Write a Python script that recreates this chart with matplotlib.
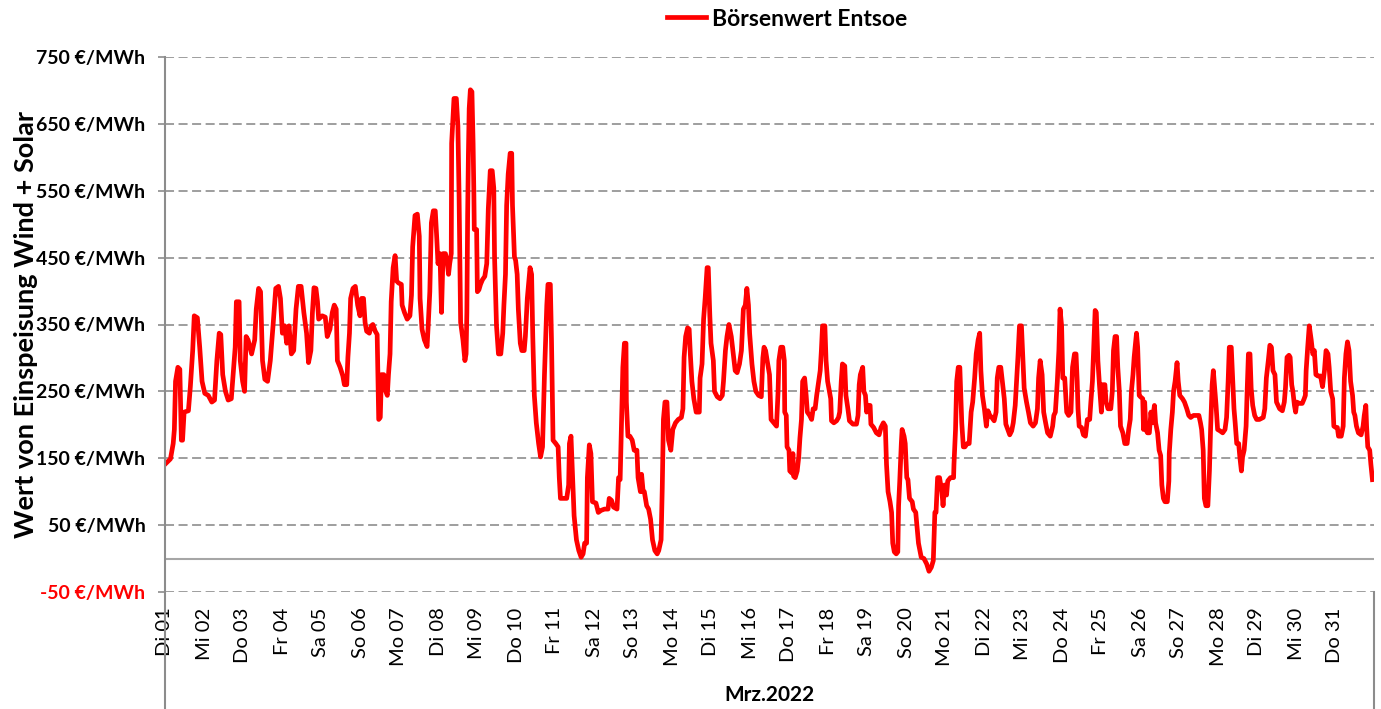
import numpy as np
import matplotlib
matplotlib.use("Agg")
import matplotlib.pyplot as plt

# (Tag seit 01.03. 00:00, Wert in EUR/MWh)
woche_1 = [(0.00, 141), (0.14, 149), (0.21, 172), (0.24, 193), (0.27, 265), (0.33, 286), (0.38, 283),
           (0.42, 177), (0.45, 177), (0.49, 219), (0.60, 221), (0.65, 257), (0.71, 311), (0.75, 363),
           (0.83, 360), (0.89, 316), (0.95, 265), (1.02, 247), (1.11, 244), (1.20, 234), (1.27, 237),
           (1.33, 296), (1.39, 337), (1.43, 335), (1.48, 275), (1.55, 250), (1.62, 237), (1.70, 239),
           (1.74, 270), (1.80, 316), (1.83, 384), (1.90, 384), (1.93, 296), (1.99, 265), (2.04, 250),
           (2.08, 332), (2.13, 327), (2.22, 306), (2.30, 327), (2.34, 373), (2.40, 404), (2.45, 399),
           (2.50, 296), (2.56, 268), (2.63, 265), (2.70, 296), (2.77, 348), (2.84, 404), (2.91, 407),
           (2.96, 389), (3.01, 337), (3.07, 348), (3.12, 322), (3.18, 348), (3.24, 306), (3.30, 311),
           (3.36, 373), (3.42, 407), (3.49, 407), (3.56, 368), (3.63, 337), (3.68, 293), (3.74, 311)]
woche_2 = [(3.78, 368), (3.82, 405), (3.87, 404), (3.91, 384), (3.94, 358), (4.03, 363), (4.11, 361),
           (4.16, 332), (4.23, 343), (4.29, 368), (4.34, 379), (4.39, 373), (4.42, 296), (4.49, 286),
           (4.56, 273), (4.60, 260), (4.66, 260), (4.69, 301), (4.73, 337), (4.76, 389), (4.82, 404),
           (4.88, 407), (4.94, 379), (5.00, 363), (5.04, 389), (5.09, 389), (5.13, 353), (5.17, 340),
           (5.24, 337), (5.29, 348), (5.33, 350), (5.39, 340), (5.44, 335), (5.47, 244), (5.48, 208),
           (5.52, 211), (5.55, 275), (5.61, 275), (5.66, 250), (5.70, 244), (5.73, 275), (5.77, 306),
           (5.80, 384), (5.85, 435), (5.90, 453), (5.94, 415), (5.99, 412), (6.06, 410), (6.08, 379),
           (6.14, 368), (6.21, 358), (6.28, 363), (6.32, 394), (6.35, 466), (6.41, 513), (6.47, 515),
           (6.52, 482), (6.54, 389), (6.59, 343), (6.65, 327), (6.72, 317), (6.75, 350), (6.79, 399),
           (6.83, 502), (6.88, 520), (6.93, 520), (6.97, 477), (7.00, 441), (7.05, 456), (7.09, 368),
           (7.13, 456), (7.19, 456), (7.23, 446), (7.27, 425), (7.30, 441), (7.34, 456), (7.35, 621),
           (7.41, 688), (7.47, 688), (7.51, 647), (7.54, 544), (7.58, 353), (7.64, 327), (7.69, 296),
           (7.72, 306), (7.74, 368), (7.76, 513), (7.78, 606), (7.80, 673), (7.83, 701), (7.87, 698),
           (7.90, 621)]
woche_3 = [(7.92, 544), (7.93, 492), (7.99, 492), (8.01, 399), (8.05, 402), (8.09, 410), (8.14, 417),
           (8.20, 422), (8.25, 441), (8.29, 523), (8.34, 580), (8.39, 580), (8.43, 554), (8.45, 451),
           (8.48, 389), (8.50, 348), (8.55, 306), (8.61, 306), (8.66, 337), (8.69, 379), (8.73, 425),
           (8.76, 528), (8.80, 575), (8.85, 606), (8.89, 606), (8.91, 528), (8.96, 451), (8.99, 446),
           (9.03, 425), (9.06, 373), (9.11, 322), (9.15, 311), (9.21, 311), (9.24, 332), (9.29, 389),
           (9.33, 415), (9.36, 435), (9.40, 425), (9.43, 332), (9.47, 244), (9.52, 203), (9.58, 172),
           (9.63, 152), (9.68, 167), (9.73, 275), (9.79, 379), (9.82, 410), (9.88, 410), (9.91, 327),
           (9.95, 177), (10.02, 172), (10.08, 167), (10.11, 121), (10.14, 90), (10.21, 90), (10.30, 90),
           (10.35, 110), (10.37, 172), (10.41, 183), (10.46, 110), (10.49, 64), (10.55, 28), (10.61, 12),
           (10.67, 2), (10.72, 7), (10.76, 23), (10.81, 23), (10.83, 121), (10.88, 170), (10.92, 157),
           (10.96, 85), (11.05, 83), (11.11, 69), (11.18, 72), (11.27, 74), (11.36, 74), (11.39, 90),
           (11.45, 87), (11.50, 77), (11.59, 74)]
woche_4 = [(11.63, 121), (11.67, 118), (11.70, 193), (11.74, 286), (11.78, 322), (11.82, 322),
           (11.83, 234), (11.87, 183), (11.92, 183), (11.98, 177), (12.03, 162), (12.10, 162),
           (12.13, 121), (12.19, 100), (12.22, 126), (12.26, 100), (12.29, 100), (12.35, 79),
           (12.40, 74), (12.45, 59), (12.50, 28), (12.56, 12), (12.62, 7), (12.66, 12), (12.72, 28),
           (12.75, 105), (12.78, 208), (12.82, 234), (12.87, 234), (12.91, 177), (12.97, 162),
           (13.02, 193), (13.09, 203), (13.16, 208), (13.24, 211), (13.28, 224), (13.31, 301),
           (13.35, 332), (13.40, 345), (13.44, 343), (13.47, 306), (13.51, 265), (13.56, 239),
           (13.62, 219), (13.70, 219), (13.72, 270), (13.77, 291), (13.81, 358), (13.85, 389),
           (13.90, 435), (13.93, 435), (13.97, 363), (14.00, 322), (14.06, 296), (14.09, 250),
           (14.16, 242), (14.23, 239), (14.29, 244), (14.32, 265), (14.37, 311), (14.41, 332),
           (14.46, 350), (14.52, 332), (14.57, 306), (14.62, 281), (14.67, 278), (14.73, 291),
           (14.78, 311), (14.83, 373), (14.88, 379), (14.92, 404), (14.96, 379), (14.99, 337),
           (15.05, 291), (15.10, 265), (15.15, 250), (15.22, 244), (15.29, 242)]
woche_5 = [(15.33, 300), (15.36, 316), (15.40, 311), (15.44, 296), (15.50, 275), (15.54, 208),
           (15.61, 203), (15.68, 198), (15.72, 250), (15.74, 296), (15.79, 316), (15.84, 316),
           (15.88, 296), (15.89, 219), (15.93, 214), (15.95, 167), (16.00, 162), (16.02, 131),
           (16.07, 128), (16.10, 157), (16.12, 123), (16.16, 121), (16.21, 131), (16.25, 152),
           (16.28, 180), (16.32, 208), (16.35, 265), (16.40, 270), (16.44, 244), (16.47, 219),
           (16.53, 214), (16.58, 208), (16.62, 224), (16.67, 224), (16.71, 244), (16.76, 265),
           (16.80, 281), (16.83, 311), (16.86, 348), (16.92, 348), (16.95, 296), (16.99, 265),
           (17.02, 255), (17.07, 239), (17.09, 206), (17.15, 203), (17.22, 206), (17.27, 211),
           (17.30, 219), (17.34, 265), (17.37, 291), (17.43, 288), (17.46, 244), (17.51, 224),
           (17.55, 206), (17.64, 201), (17.73, 201), (17.77, 214), (17.80, 260), (17.83, 275),
           (17.89, 286), (17.92, 250), (17.96, 244), (17.99, 219), (18.04, 229), (18.08, 229),
           (18.10, 201), (18.17, 196), (18.24, 188), (18.31, 185), (18.36, 196), (18.42, 203),
           (18.47, 198), (18.50, 141), (18.54, 100), (18.59, 85), (18.63, 69), (18.66, 23),
           (18.70, 10), (18.75, 7), (18.79, 10), (18.81, 79), (18.84, 116), (18.88, 172),
           (18.90, 193), (18.95, 183), (18.98, 172), (19.02, 121), (19.05, 118), (19.09, 90),
           (19.16, 85), (19.19, 74), (19.25, 69)]
woche_6 = [(19.32, 23), (19.39, 2), (19.46, 0), (19.53, -8), (19.59, -19), (19.65, -13), (19.70, -3),
           (19.74, 69), (19.77, 69), (19.81, 121), (19.86, 121), (19.92, 100), (19.95, 79),
           (19.99, 110), (20.04, 95), (20.07, 116), (20.14, 121), (20.22, 121), (20.23, 141),
           (20.27, 193), (20.30, 265), (20.34, 286), (20.38, 286), (20.43, 203), (20.47, 167),
           (20.51, 167), (20.57, 172), (20.62, 172), (20.67, 219), (20.71, 234), (20.76, 270),
           (20.80, 306), (20.85, 327), (20.89, 337), (20.92, 281), (20.96, 244), (21.01, 224),
           (21.06, 198), (21.10, 221), (21.15, 214), (21.20, 211), (21.26, 206), (21.31, 219),
           (21.34, 270), (21.38, 286), (21.43, 286), (21.47, 265), (21.52, 239), (21.56, 201),
           (21.61, 193), (21.66, 185), (21.71, 191), (21.75, 203), (21.80, 229), (21.84, 270),
           (21.87, 301), (21.91, 348), (21.96, 348), (22.00, 296), (22.03, 255), (22.09, 234),
           (22.14, 219), (22.19, 203), (22.26, 198), (22.32, 203), (22.37, 224), (22.40, 270),
           (22.44, 296), (22.49, 275), (22.53, 219), (22.58, 203), (22.63, 188), (22.70, 183),
           (22.76, 198), (22.79, 214), (22.83, 219), (22.88, 265), (22.92, 311), (22.95, 373),
           (22.99, 348), (23.02, 270), (23.07, 270), (23.12, 219)]
woche_7 = [(23.17, 214), (23.23, 219), (23.27, 286), (23.32, 306), (23.36, 306), (23.39, 265),
           (23.41, 224), (23.44, 198), (23.50, 196), (23.55, 185), (23.60, 183), (23.65, 208),
           (23.71, 208), (23.74, 234), (23.78, 265), (23.81, 311), (23.85, 371), (23.88, 368),
           (23.92, 296), (23.96, 260), (24.01, 219), (24.04, 260), (24.10, 260), (24.13, 234),
           (24.18, 224), (24.25, 224), (24.29, 250), (24.32, 311), (24.36, 332), (24.40, 332),
           (24.43, 286), (24.47, 250), (24.50, 198), (24.56, 188), (24.61, 172), (24.67, 172),
           (24.71, 193), (24.75, 208), (24.78, 250), (24.82, 275), (24.85, 301), (24.91, 337),
           (24.94, 316), (24.98, 244), (25.01, 242), (25.07, 239), (25.09, 193), (25.12, 234),
           (25.15, 193), (25.19, 188), (25.24, 188), (25.28, 219), (25.31, 203), (25.37, 229),
           (25.40, 203), (25.45, 188), (25.49, 162), (25.53, 154), (25.56, 110), (25.60, 90),
           (25.64, 85), (25.70, 85), (25.74, 116), (25.75, 157), (25.79, 193), (25.83, 219),
           (25.86, 250), (25.90, 265), (25.95, 293), (25.98, 265), (26.02, 244), (26.09, 239),
           (26.14, 234), (26.20, 224), (26.25, 214), (26.30, 211), (26.37, 214), (26.44, 214),
           (26.51, 214), (26.55, 203), (26.58, 193), (26.62, 162), (26.65, 90), (26.69, 79),
           (26.74, 79), (26.78, 131), (26.81, 193), (26.85, 260), (26.88, 281)]
woche_8 = [(26.93, 244), (26.95, 229), (26.99, 193), (27.05, 191), (27.12, 188), (27.18, 193),
           (27.22, 211), (27.26, 265), (27.29, 316), (27.34, 316), (27.38, 265), (27.41, 224),
           (27.44, 203), (27.48, 172), (27.53, 172), (27.56, 152), (27.60, 131), (27.63, 152),
           (27.67, 162), (27.72, 198), (27.75, 255), (27.78, 306), (27.82, 306), (27.85, 255),
           (27.89, 229), (27.94, 214), (27.99, 208), (28.06, 208), (28.16, 211), (28.20, 224),
           (28.24, 270), (28.29, 296), (28.33, 319), (28.37, 316), (28.41, 281), (28.46, 275),
           (28.50, 234), (28.54, 229), (28.58, 224), (28.65, 221), (28.70, 234), (28.73, 255),
           (28.77, 301), (28.82, 304), (28.85, 301), (28.89, 260), (28.92, 250), (28.96, 229),
           (28.99, 219), (29.02, 234), (29.09, 232), (29.16, 232), (29.21, 239), (29.24, 244),
           (29.26, 281), (29.30, 316), (29.34, 348), (29.39, 327), (29.43, 306), (29.47, 311),
           (29.51, 275), (29.56, 273), (29.63, 273), (29.68, 257), (29.73, 281), (29.77, 311),
           (29.82, 306), (29.85, 286), (29.89, 250), (29.94, 239), (29.97, 198), (30.02, 196),
           (30.06, 196), (30.09, 183), (30.16, 183), (30.21, 198), (30.24, 270), (30.28, 306),
           (30.32, 324), (30.36, 311), (30.40, 265), (30.45, 244), (30.48, 219), (30.51, 214),
           (30.55, 198), (30.60, 188), (30.67, 185), (30.72, 198), (30.75, 214), (30.79, 229),
           (30.81, 198), (30.84, 167), (30.89, 162), (30.92, 141), (30.96, 118)]

tage_labels = ['Di 01', 'Mi 02', 'Do 03', 'Fr 04', 'Sa 05', 'So 06', 'Mo 07', 'Di 08', 'Mi 09',
               'Do 10', 'Fr 11', 'Sa 12', 'So 13', 'Mo 14', 'Di 15', 'Mi 16', 'Do 17', 'Fr 18',
               'Sa 19', 'So 20', 'Mo 21', 'Di 22', 'Mi 23', 'Do 24', 'Fr 25', 'Sa 26', 'So 27',
               'Mo 28', 'Di 29', 'Mi 30', 'Do 31']
y_ticks = [-50, 50, 150, 250, 350, 450, 550, 650, 750]
monat = 'Mrz.2022'
serie = 'Börsenwert Entsoe'

daten = np.array(woche_1 + woche_2 + woche_3 + woche_4 + woche_5 + woche_6 + woche_7 + woche_8)
t, w = daten[:, 0], daten[:, 1]

plt.rcParams['font.family'] = ['Lato', 'DejaVu Sans']
grau = '#8c8c8c'

fig = plt.figure(figsize=(13.81, 7.09), dpi=100)
W, H = 1381, 709
ax = fig.add_axes([165 / W, 1 - 592 / H, (1374 - 165) / W, (592 - 57) / H])

ax.plot(t, w, color='#ff0000', lw=3.4, label=serie)
ax.axhline(0, color='#a6a6a6', lw=1.5, zorder=1)

ax.set_xlim(0, 31)
ax.set_ylim(-50, 750)
ax.set_yticks(y_ticks)
ax.set_yticklabels([f'{v} €/MWh' for v in y_ticks], fontsize=14, fontweight='bold')
ax.get_yticklabels()[0].set_color('#ff0000')
ax.tick_params(axis='y', length=5, color=grau, width=1.2, pad=9)
ax.yaxis.grid(True, color='#969696', lw=1.3, linestyle=(0, (5, 2.5)))
ax.set_axisbelow(True)

ax.set_xticks(np.arange(len(tage_labels)))
ax.set_xticklabels(tage_labels, rotation=90, fontsize=14.5, va='top', ha='center')
ax.tick_params(axis='x', length=0, pad=11)

for s in ['top', 'right', 'bottom', 'left']:
    ax.spines[s].set_visible(False)
ax.plot([0, 0], [-0.23, 1], transform=ax.transAxes, color=grau, lw=1.5, clip_on=False)
ax.plot([1, 1], [-0.23, 0], transform=ax.transAxes, color=grau, lw=1.5, clip_on=False)

fig.text(769 / W, 1 - 695 / H, monat, ha='center', va='center', fontsize=15, fontweight='bold')
fig.text(26 / W, 1 - 325 / H, 'Wert von Einspeisung Wind + Solar', rotation=90,
         ha='center', va='center', fontsize=19.5, fontweight='bold')

fig.legend(loc='center', bbox_to_anchor=(787 / W, 1 - 19 / H), frameon=False,
           prop={'size': 16.5, 'weight': 'bold'}, handlelength=1.7, handletextpad=0.25)

fig.savefig('out.png', dpi=100)
